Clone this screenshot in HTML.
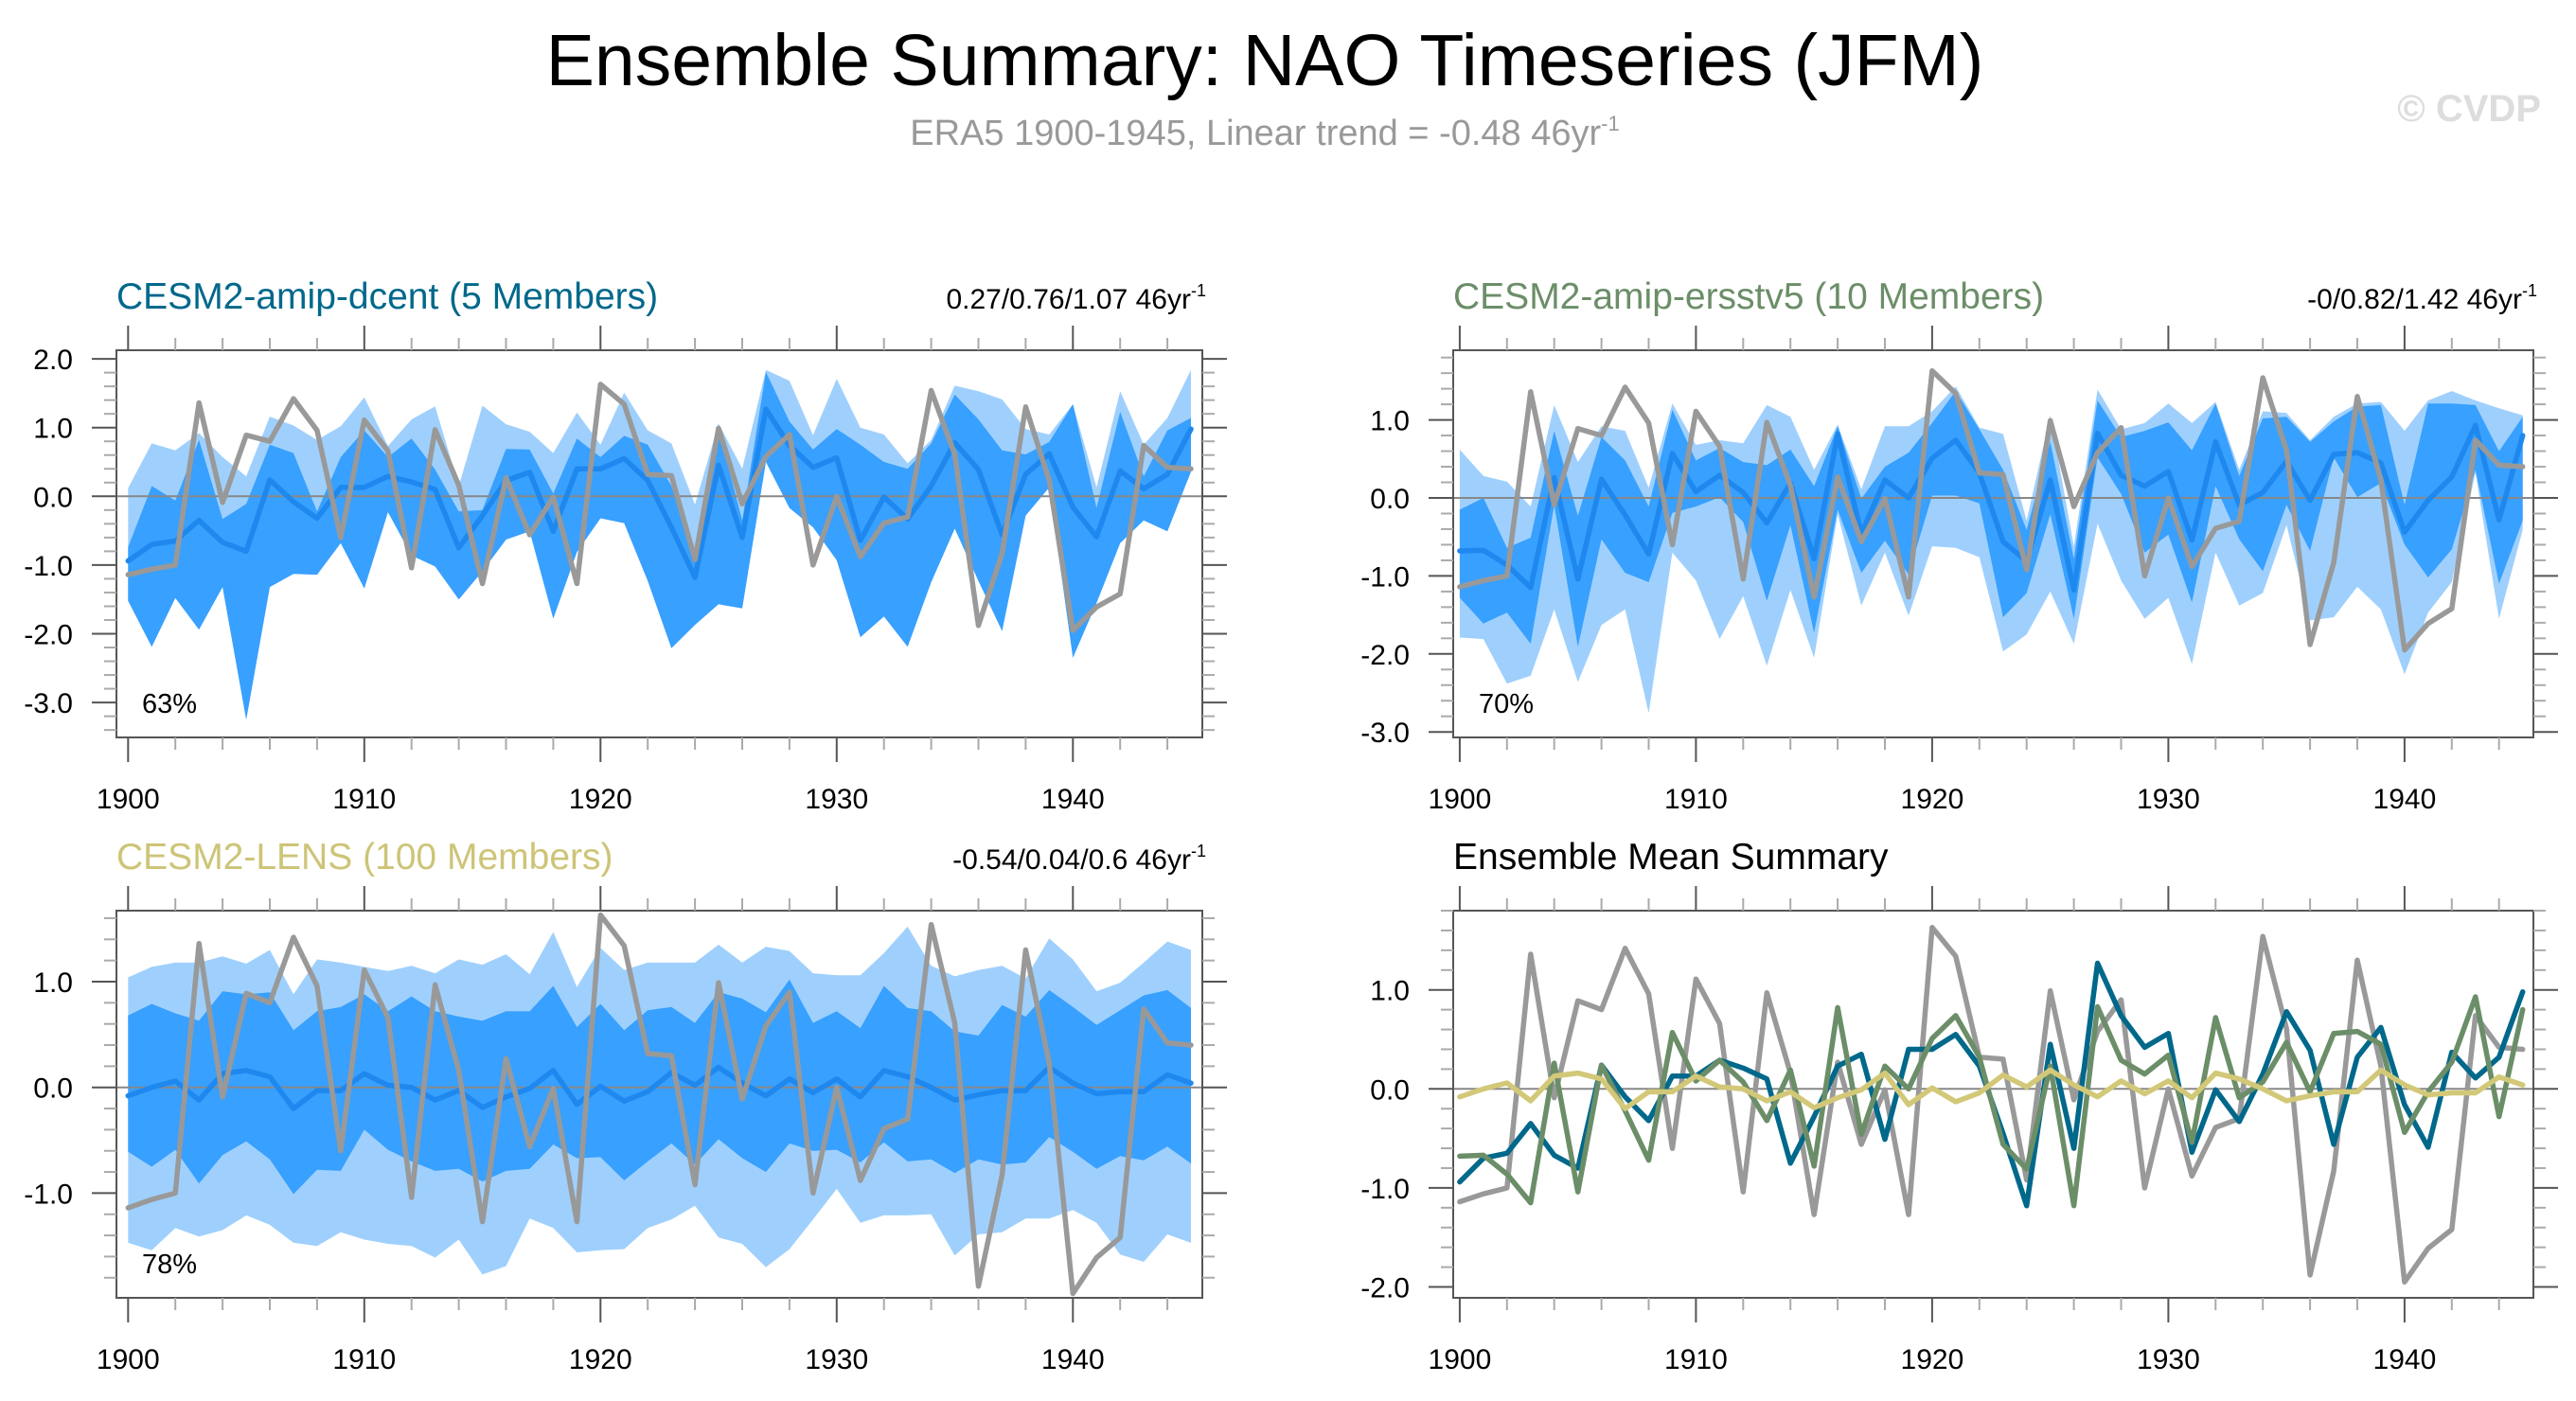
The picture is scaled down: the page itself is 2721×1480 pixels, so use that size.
<!DOCTYPE html>
<html><head><meta charset="utf-8"><style>
html,body{margin:0;padding:0;background:#fff;}
svg{display:block;font-family:"Liberation Sans",Arial,sans-serif;}
</style></head><body>
<svg id="fig" width="2721" height="1480" viewBox="0 0 2721 1480" xmlns="http://www.w3.org/2000/svg">
<text x="1336" y="90" font-size="77" text-anchor="middle" fill="#000">Ensemble Summary: NAO Timeseries (JFM)</text>
<text x="1336" y="153" font-size="38" text-anchor="middle" fill="#999">ERA5 1900-1945, Linear trend = -0.48 46yr<tspan font-size="22" dy="-15">-1</tspan></text>
<text x="2684" y="128" font-size="40" font-weight="bold" text-anchor="end" fill="#ddd">© CVDP</text>
<g id="panels"></g>
</svg>
<script>
const years = [1900,1901,1902,1903,1904,1905,1906,1907,1908,1909,1910,1911,1912,1913,1914,1915,1916,1917,1918,1919,1920,1921,1922,1923,1924,1925,1926,1927,1928,1929,1930,1931,1932,1933,1934,1935,1936,1937,1938,1939,1940,1941,1942,1943,1944,1945];
const obs = [-1.14,-1.06,-1.0,1.36,-0.09,0.89,0.80,1.42,0.96,-0.60,1.11,0.66,-1.04,0.97,0.16,-1.27,0.27,-0.56,-0.01,-1.27,1.63,1.34,0.32,0.30,-0.92,0.99,-0.11,0.58,0.90,-1.0,0.0,-0.88,-0.39,-0.30,1.54,0.61,-1.88,-0.83,1.30,0.23,-1.95,-1.61,-1.42,0.74,0.42,0.40];
const dcentMean = [-0.94,-0.70,-0.65,-0.35,-0.67,-0.80,0.24,-0.08,-0.32,0.13,0.13,0.29,0.21,0.10,-0.75,-0.28,0.23,0.35,-0.51,0.40,0.40,0.55,0.23,-0.45,-1.18,0.45,-0.60,1.27,0.74,0.42,0.56,-0.64,-0.01,-0.33,0.15,0.78,0.39,-0.56,0.32,0.62,-0.16,-0.59,0.37,0.11,0.32,0.98];
const ersstMean = [-0.68,-0.67,-0.86,-1.15,0.26,-1.04,0.24,-0.22,-0.72,0.57,0.08,0.29,0.07,-0.32,0.19,-0.78,0.82,-0.46,0.23,0.0,0.51,0.74,0.32,-0.56,-0.81,0.23,-1.18,0.83,0.29,0.15,0.34,-0.54,0.72,-0.09,0.07,0.47,-0.03,0.56,0.58,0.45,-0.44,-0.03,0.27,0.93,-0.28,0.80];
const lensMean = [-0.08,0.0,0.06,-0.12,0.13,0.16,0.10,-0.20,-0.03,-0.03,0.13,0.02,0.0,-0.12,-0.03,-0.19,-0.09,-0.01,0.16,-0.16,0.01,-0.13,-0.04,0.14,0.02,0.19,0.04,-0.08,0.08,-0.05,0.08,-0.09,0.16,0.10,0.0,-0.12,-0.07,-0.03,-0.03,0.19,0.04,-0.06,-0.04,-0.04,0.12,0.04];
const dcentHi = [0.12,0.77,0.67,0.92,0.57,0.29,1.16,1.03,0.82,1.02,1.44,0.73,1.12,1.31,0.15,1.32,1.05,0.94,0.63,1.22,0.75,1.51,0.96,0.77,-0.12,1.06,0.40,1.84,1.68,0.89,1.71,1.00,0.90,0.48,0.82,1.61,1.53,1.41,0.98,0.90,1.34,0.13,1.53,0.75,1.14,1.84];
const dcentQ3 = [-0.74,0.15,-0.06,0.82,-0.33,-0.11,0.75,0.63,-0.22,0.57,0.96,0.57,0.84,0.39,-0.22,-0.2,0.69,0.68,0.04,0.84,0.57,0.88,0.75,0.15,-0.90,0.98,-0.35,1.81,1.09,0.68,0.98,0.75,0.50,0.40,0.77,1.48,1.12,0.67,0.61,0.79,1.34,-0.17,1.23,0.29,0.96,1.14];
const dcentQ1 = [-1.52,-2.19,-1.48,-1.94,-1.32,-3.25,-1.32,-1.13,-1.14,-0.68,-1.34,-0.23,-0.86,-1.02,-1.50,-1.09,-0.63,-0.51,-1.78,-0.81,-0.32,-0.39,-1.23,-2.21,-1.87,-1.57,-1.63,0.50,-0.17,-0.45,-0.93,-2.05,-1.75,-2.19,-1.25,-0.47,-1.23,-1.96,-0.28,0.13,-2.35,-1.55,-0.68,-0.35,-0.51,0.36];
const dcentLo = [-1.52,-2.19,-1.48,-1.94,-1.32,-3.25,-1.32,-1.13,-1.14,-0.68,-1.34,-0.23,-0.86,-1.02,-1.50,-1.09,-0.63,-0.51,-1.78,-0.81,-0.32,-0.39,-1.23,-2.21,-1.87,-1.57,-1.63,0.50,-0.17,-0.45,-0.93,-2.05,-1.75,-2.19,-1.25,-0.47,-1.23,-1.96,-0.28,0.13,-2.35,-1.55,-0.68,-0.35,-0.51,0.36];
const ersstHi = [0.62,0.28,0.21,-0.11,1.19,0.46,0.92,0.86,0.13,1.21,0.68,0.74,0.70,1.19,1.04,0.36,0.94,0.11,0.92,0.92,1.11,1.43,0.90,0.82,-0.29,1.06,-0.62,1.39,0.88,0.96,1.21,0.96,1.23,0.36,1.11,1.09,0.74,1.04,1.21,1.23,0.86,1.25,1.37,1.25,1.15,1.06];
const ersstQ3 = [-0.15,0.0,-0.64,-0.51,0.86,-0.23,0.78,0.48,-0.11,1.13,0.48,0.64,0.46,0.42,0.62,0.15,0.92,-0.01,0.40,0.58,0.96,1.37,0.88,0.36,-0.41,0.72,-0.78,1.25,0.78,0.86,0.97,0.61,1.21,0.28,1.02,1.04,0.72,0.98,1.17,1.19,-0.09,1.21,1.21,1.19,0.60,1.04];
const ersstQ1 = [-1.28,-1.61,-1.47,-1.87,-0.09,-1.91,-0.53,-0.96,-1.08,-0.19,-0.11,0.01,-0.31,-1.32,-0.35,-1.73,-0.15,-0.96,-0.55,-0.98,0.03,0.03,-0.07,-1.53,-1.22,-0.21,-1.55,0.52,0.05,-0.70,-0.47,-1.34,0.15,-0.53,-0.94,-0.09,-0.68,0.52,0.01,0.19,-0.60,-1.02,-0.66,0.36,-1.10,-0.29];
const ersstLo = [-1.79,-1.81,-2.38,-2.28,-1.43,-2.36,-1.63,-1.43,-2.76,-0.70,-1.06,-1.81,-1.26,-2.15,-1.18,-2.05,-0.21,-1.38,-0.70,-1.51,-0.62,-0.64,-0.76,-1.97,-1.75,-1.20,-1.87,-0.33,-1.06,-1.55,-1.28,-2.13,-0.70,-1.38,-1.22,-0.35,-1.57,-1.53,-1.14,-1.43,-2.26,-1.47,-1.08,0.32,-1.55,-0.41];
const lensHi = [1.04,1.14,1.18,1.18,1.24,1.17,1.30,0.88,1.21,1.18,1.14,1.10,1.15,1.08,1.21,1.16,1.26,1.07,1.47,0.95,1.32,1.11,1.18,1.18,1.18,1.35,1.18,1.33,1.29,1.08,1.06,1.06,1.27,1.52,1.15,1.05,1.11,1.15,1.03,1.41,1.21,0.91,0.99,1.18,1.38,1.30];
const lensQ3 = [0.68,0.79,0.70,0.63,0.91,0.88,0.90,0.54,0.72,0.76,0.88,0.72,0.86,0.72,0.67,0.63,0.72,0.72,0.96,0.57,0.79,0.54,0.73,0.76,0.61,0.90,0.84,0.71,1.02,0.61,0.72,0.56,0.96,0.75,0.72,0.53,0.49,0.78,0.67,0.92,0.76,0.59,0.73,0.87,0.92,0.75];
const lensQ1 = [-0.61,-0.75,-0.59,-0.91,-0.64,-0.51,-0.68,-1.01,-0.78,-0.79,-0.40,-0.59,-0.70,-0.79,-0.77,-0.89,-0.79,-0.77,-0.54,-0.67,-0.66,-0.88,-0.70,-0.53,-0.73,-0.49,-0.67,-0.80,-0.53,-0.60,-0.59,-0.71,-0.52,-0.70,-0.68,-0.81,-0.68,-0.73,-0.71,-0.47,-0.61,-0.77,-0.65,-0.69,-0.56,-0.72];
const lensLo = [-1.47,-1.54,-1.33,-1.41,-1.35,-1.21,-1.30,-1.47,-1.50,-1.37,-1.44,-1.48,-1.50,-1.61,-1.44,-1.77,-1.69,-1.24,-1.33,-1.56,-1.54,-1.53,-1.33,-1.25,-1.12,-1.42,-1.48,-1.70,-1.53,-1.25,-0.96,-1.28,-1.21,-1.21,-1.20,-1.59,-1.39,-1.37,-1.24,-1.24,-1.16,-1.28,-1.58,-1.65,-1.39,-1.47];
const xTickLabels = ["1900","1910","1920","1930","1940"];
const yTicks1 = ["2.0","1.0","0.0","-1.0","-2.0","-3.0"];
const yTicks2 = ["1.0","0.0","-1.0","-2.0","-3.0"];
const yTicks3 = ["1.0","0.0","-1.0"];
const yTicks4 = ["1.0","0.0","-1.0","-2.0"];

const NS = "http://www.w3.org/2000/svg";
const root = document.getElementById("panels");
function el(tag, attrs, parent){
  const e = document.createElementNS(NS, tag);
  for (const k in attrs) e.setAttribute(k, attrs[k]);
  (parent || root).appendChild(e);
  return e;
}

function drawPanel(p){
  const g = el("g", {});
  
  
  const xs = i => p.x0 + p.dx * (years[i] - years[0]);
  const ys = v => p.zero - p.unit * v;
  const vTop = (p.zero - p.top) / p.unit, vBot = (p.zero - p.bottom) / p.unit;
  function band(hi, lo, color, nm){
    let pts = [];
    for (let i = 0; i < years.length; i++) pts.push(xs(i).toFixed(1) + "," + ys(hi[i]).toFixed(1));
    for (let i = years.length - 1; i >= 0; i--) pts.push(xs(i).toFixed(1) + "," + ys(lo[i]).toFixed(1));
    const b = el("polygon", {points: pts.join(" "), fill: color}, g);
    
    
  }
  if (p.hi){
    band(p.hi, p.lo, "#9fd0fd", "outer-spread-band");
    band(p.q3, p.q1, "#38a0fe", "inner-spread-band");
  }
  const z = el("line", {x1: p.left, x2: p.right, y1: ys(0), y2: ys(0), stroke: "#888", "stroke-width": 2}, g);
  
  
  function line(arr, color, nm){
    const pts = arr.map((v, i) => xs(i).toFixed(1) + "," + ys(v).toFixed(1)).join(" ");
    const l = el("polyline", {points: pts, fill: "none", stroke: color, "stroke-width": 5.5, "stroke-linejoin": "round", "stroke-linecap": "round"}, g);
    
    
  }
  p.lines.forEach(s => line(s.data, s.color, s.nm));
  const box = el("rect", {x: p.left, y: p.top, width: p.right - p.left, height: p.bottom - p.top, fill: "none", stroke: "#555", "stroke-width": 2}, g);
  
  
  for (let yr = 1900; yr <= 1944; yr += 2){
    const x = p.x0 + p.dx * (yr - 1900);
    const major = yr % 10 === 0;
    const len = major ? 26 : 13;
    const t1 = el("line", {x1: x, x2: x, y1: p.top, y2: p.top - len, stroke: major ? "#555" : "#aaa", "stroke-width": 2}, g);
    
    
    const t2 = el("line", {x1: x, x2: x, y1: p.bottom, y2: p.bottom + len, stroke: major ? "#555" : "#aaa", "stroke-width": 2}, g);
    
    
  }
  xTickLabels.forEach(lbl => {
    const x = p.x0 + p.dx * (Number(lbl) - 1900);
    const t = el("text", {x: x, y: p.bottom + 75, "font-size": 30, "text-anchor": "middle", fill: "#000"}, g);
    t.textContent = lbl;
    
    
  });
  for (let k = Math.ceil(vBot * 5); k <= Math.floor(vTop * 5); k++){
    const v = k / 5, y = ys(v);
    const major = k % 5 === 0;
    const len = major ? 26 : 13;
    const a = el("line", {x1: p.left, x2: p.left - len, y1: y, y2: y, stroke: major ? "#555" : "#aaa", "stroke-width": 2}, g);
    
    
    const b = el("line", {x1: p.right, x2: p.right + len, y1: y, y2: y, stroke: major ? "#555" : "#aaa", "stroke-width": 2}, g);
    
    
  }
  p.yLabels.forEach(lbl => {
    const t = el("text", {x: p.left - 46, y: ys(Number(lbl)) + 11, "font-size": 30, "text-anchor": "end", fill: "#000"}, g);
    t.textContent = lbl;
    
    
  });
  const tt = el("text", {x: p.left, y: p.top - 44, "font-size": 39, fill: p.titleColor}, g);
  tt.textContent = p.title;
  
  
  if (p.stats){
    const st = el("text", {x: p.right + 4, y: p.top - 44, "font-size": 30, "text-anchor": "end", fill: "#000"}, g);
    
    
    const a = el("tspan", {}, st); a.textContent = p.stats;
    const b = el("tspan", {"font-size": 18, dy: -13}, st); b.textContent = "-1";
  }
  if (p.pct){
    const pc = el("text", {x: p.left + 27, y: p.bottom - 26, "font-size": 29, fill: "#000"}, g);
    pc.textContent = p.pct;
    
    
  }
}

drawPanel({name: "panel-dcent", left: 123, right: 1270, top: 370, bottom: 779, x0: 135.3, dx: 24.95, zero: 524.3, unit: 72.6,
  hi: dcentHi, q3: dcentQ3, q1: dcentQ1, lo: dcentLo, yLabels: yTicks1,
  lines: [{data: dcentMean, color: "#1e88ef", nm: "ensemble-mean-line"}, {data: obs, color: "#999", nm: "era5-observed-line"}],
  title: "CESM2-amip-dcent (5 Members)", titleColor: "#00688b", stats: "0.27/0.76/1.07 46yr", pct: "63%"});
drawPanel({name: "panel-ersstv5", left: 1535, right: 2676, top: 370, bottom: 779, x0: 1541.9, dx: 24.95, zero: 526, unit: 82.4,
  hi: ersstHi, q3: ersstQ3, q1: ersstQ1, lo: ersstLo, yLabels: yTicks2,
  lines: [{data: ersstMean, color: "#1e88ef", nm: "ensemble-mean-line"}, {data: obs, color: "#999", nm: "era5-observed-line"}],
  title: "CESM2-amip-ersstv5 (10 Members)", titleColor: "#6b8e68", stats: "-0/0.82/1.42 46yr", pct: "70%"});
drawPanel({name: "panel-lens", left: 123, right: 1270, top: 962, bottom: 1371, x0: 135.3, dx: 24.95, zero: 1148.7, unit: 111.7,
  hi: lensHi, q3: lensQ3, q1: lensQ1, lo: lensLo, yLabels: yTicks3,
  lines: [{data: lensMean, color: "#1e88ef", nm: "ensemble-mean-line"}, {data: obs, color: "#999", nm: "era5-observed-line"}],
  title: "CESM2-LENS (100 Members)", titleColor: "#cdc477", stats: "-0.54/0.04/0.6 46yr", pct: "78%"});
drawPanel({name: "panel-ensemble-mean-summary", left: 1535, right: 2676, top: 962, bottom: 1371, x0: 1541.9, dx: 24.95, zero: 1150.3, unit: 104.6,
  yLabels: yTicks4,
  lines: [{data: obs, color: "#999", nm: "era5-observed-line"}, {data: dcentMean, color: "#00688b", nm: "dcent-mean-line"},
          {data: ersstMean, color: "#6b8e68", nm: "ersstv5-mean-line"}, {data: lensMean, color: "#d2c878", nm: "lens-mean-line"}],
  title: "Ensemble Mean Summary", titleColor: "#000"});
</script>
</body></html>
